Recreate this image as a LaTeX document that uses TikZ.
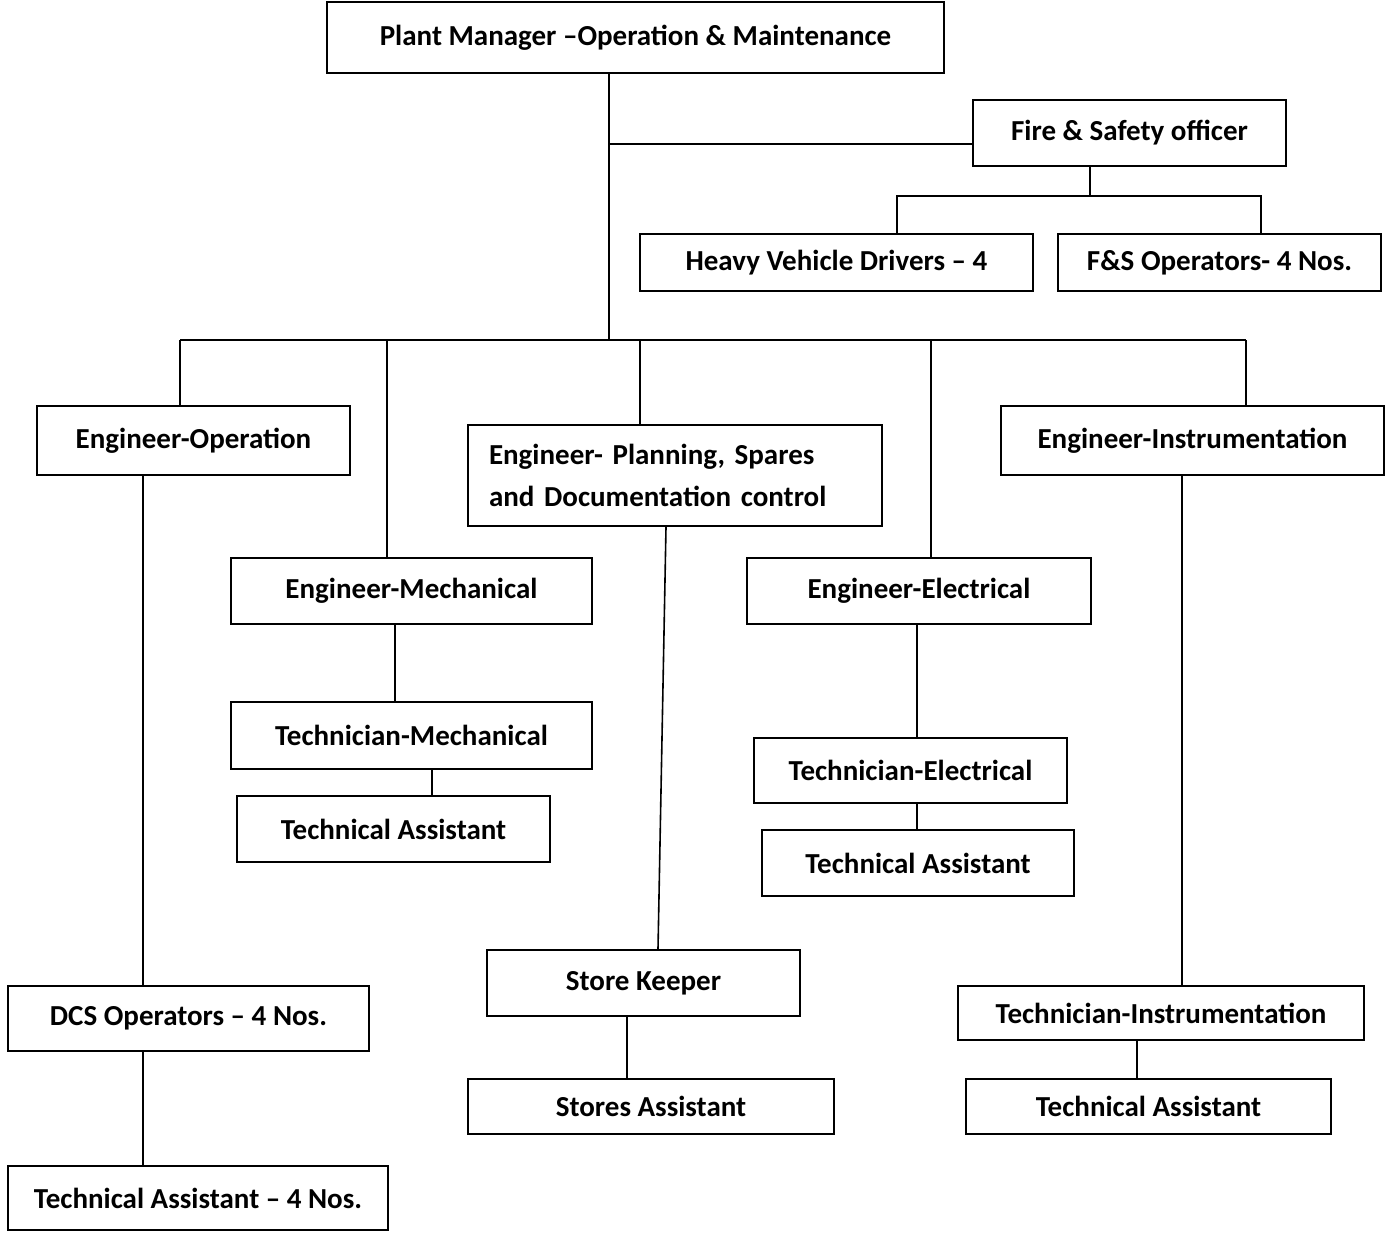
\documentclass[tikz,border=0pt]{standalone}
\usepackage{fontspec}
\setmainfont{Carlito}
\begin{document}
\begin{tikzpicture}[x=1pt,y=-1pt,
  box/.style={draw=black,line width=2.2pt,fill=white,inner sep=0pt,
    font=\bfseries\fontsize{29}{34}\selectfont},
  conn/.style={draw=black,line width=1.6pt}]
\useasboundingbox (0,0) rectangle (1389,1232);
% nodes
\node[box,minimum width=617,minimum height=71] (pm) at (635.5,37.5) {Plant Manager –Operation \& Maintenance};
\node[box,minimum width=313,minimum height=66] (fs) at (1129.5,133) {Fire \& Safety officer};
\node[box,minimum width=393,minimum height=57] (hv) at (836.5,262.5) {Heavy Vehicle Drivers – 4};
\node[box,minimum width=323,minimum height=57] (fso) at (1219.5,262.5) {F\&S Operators- 4 Nos.};
\node[box,minimum width=313,minimum height=69] (eo) at (193.5,440.5) {Engineer-Operation};
\node[box,minimum width=414,minimum height=101,text width=372,inner xsep=21pt,align=left,
  font=\bfseries\fontsize{29}{42}\selectfont] (ep) at (675,475.5) {Engineer- Planning, Spares\\and Documentation control};
\node[box,minimum width=383,minimum height=69] (ei) at (1192.5,440.5) {Engineer-Instrumentation\hspace{24pt}};
\node[box,minimum width=361,minimum height=66] (em) at (411.5,591) {Engineer-Mechanical};
\node[box,minimum width=344,minimum height=66] (ee) at (919,591) {Engineer-Electrical};
\node[box,minimum width=361,minimum height=67] (tm) at (411.5,735.5) {Technician-Mechanical};
\node[box,minimum width=313,minimum height=66] (tam) at (393.5,829) {Technical Assistant};
\node[box,minimum width=313,minimum height=65] (te) at (910.5,770.5) {Technician-Electrical};
\node[box,minimum width=312,minimum height=66] (tae) at (918,863) {Technical Assistant};
\node[box,minimum width=361,minimum height=65] (dcs) at (188.5,1018.5) {DCS Operators – 4 Nos.};
\node[box,minimum width=380,minimum height=64] (ta4) at (198,1198) {Technical Assistant – 4 Nos.};
\node[box,minimum width=313,minimum height=66] (sk) at (643.5,983) {Store Keeper};
\node[box,minimum width=366,minimum height=55] (sa) at (651,1106.5) {Stores Assistant};
\node[box,minimum width=406,minimum height=54] (ti) at (1161,1013) {Technician-Instrumentation};
\node[box,minimum width=365,minimum height=55] (tai) at (1148.5,1106.5) {Technical Assistant};
% junction coordinates
\coordinate (j1) at (609,144);
\coordinate (bus) at (609,340);
\coordinate (fsb) at (1090,196);
\coordinate (hvx) at (897,196);
\coordinate (fsox) at (1261,196);
\coordinate (b1) at (180,340);
\coordinate (b2) at (387,340);
\coordinate (b3) at (640,340);
\coordinate (b4) at (931,340);
\coordinate (b5) at (1246,340);
\coordinate (c1) at (143,0);
\coordinate (c2) at (395,0);
\coordinate (c3) at (432,0);
\coordinate (c4) at (917,0);
\coordinate (c5) at (1182,0);
\coordinate (c6) at (1137,0);
\coordinate (c7) at (627,0);
\coordinate (c8) at (666,0);
\coordinate (c9) at (658,0);
% connectors
\draw[conn] (pm.south -| bus) -- (bus);
\draw[conn] (j1) -- (fs.west |- j1);
\draw[conn] (fs.south -| fsb) -- (fsb);
\draw[conn] (hv.north -| hvx) -- (hvx) -- (fsox) -- (fso.north -| fsox);
\draw[conn] (b1) -- (b5);
\draw[conn] (b1) -- (eo.north -| b1);
\draw[conn] (b2) -- (em.north -| b2);
\draw[conn] (b3) -- (ep.north -| b3);
\draw[conn] (b4) -- (ee.north -| b4);
\draw[conn] (b5) -- (ei.north -| b5);
\draw[conn] (eo.south -| c1) -- (dcs.north -| c1);
\draw[conn] (dcs.south -| c1) -- (ta4.north -| c1);
\draw[conn] (ep.south -| c8) -- (sk.north -| c9);
\draw[conn] (em.south -| c2) -- (tm.north -| c2);
\draw[conn] (tm.south -| c3) -- (tam.north -| c3);
\draw[conn] (ee.south -| c4) -- (te.north -| c4);
\draw[conn] (te.south -| c4) -- (tae.north -| c4);
\draw[conn] (ei.south -| c5) -- (ti.north -| c5);
\draw[conn] (ti.south -| c6) -- (tai.north -| c6);
\draw[conn] (sk.south -| c7) -- (sa.north -| c7);
\end{tikzpicture}
\end{document}
